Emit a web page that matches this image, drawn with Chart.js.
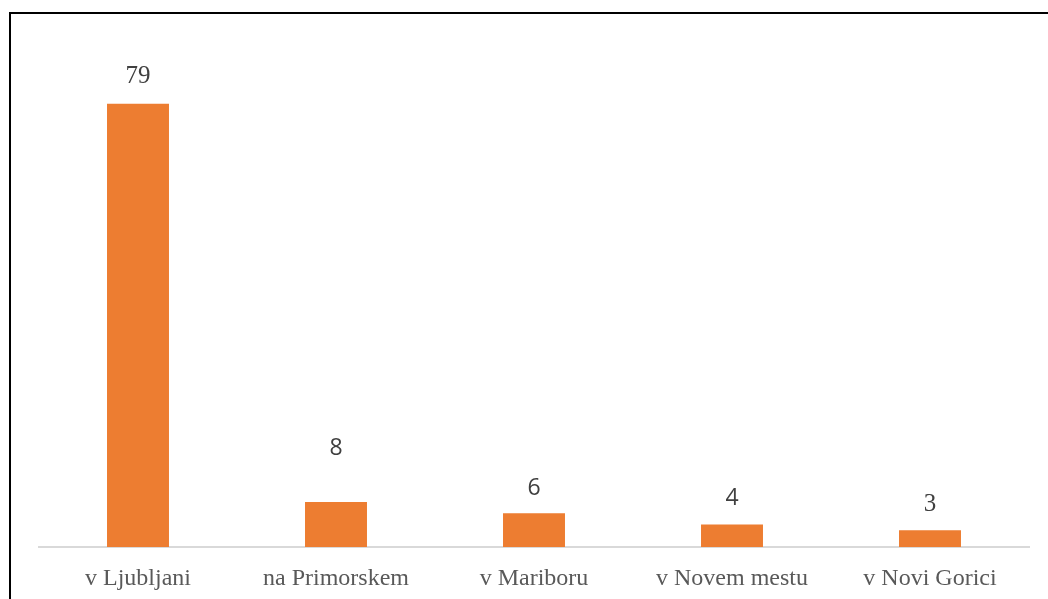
<!DOCTYPE html>
<html>
<head>
<meta charset="utf-8">
<script src="https://cdn.jsdelivr.net/npm/chart.js@4.4.1/dist/chart.umd.min.js"></script>
<style>
  html, body { margin: 0; padding: 0; background: #fff; overflow: hidden; }
  #wrap { position: relative; width: 1048px; height: 599px; }
  #frame {
    position: absolute; left: 9px; top: 12px; right: -10px; bottom: -10px;
    border-left: 2px solid #000; border-top: 2px solid #000;
    pointer-events: none;
  }
  canvas { position: absolute; left: 0; top: 0; }
</style>
</head>
<body>
<div id="wrap">
  <canvas id="chart" width="1048" height="599"></canvas>
  <div id="frame"></div>
</div>
<script>
// Number of respondents by location
const categories = ['v Ljubljani', 'na Primorskem', 'v Mariboru', 'v Novem mestu', 'v Novi Gorici'];
const counts = [79, 8, 6, 4, 3];

// Per-label styling of the value annotations
const SERIF = '"Liberation Serif"';
const SANS = '"Open Sans"';
const labelFamilies = [SERIF, SANS, SANS, SANS, SERIF];
const labelSizes = [25, 23, 23, 23, 25];
const labelGaps = [27, 54, 25, 26, 26];

const valueLabels = {
  id: 'valueLabels',
  afterDatasetsDraw(chart) {
    const ctx = chart.ctx;
    const meta = chart.getDatasetMeta(0);
    ctx.save();
    ctx.fillStyle = '#404040';
    ctx.textAlign = 'center';
    ctx.textBaseline = 'middle';
    meta.data.forEach((bar, i) => {
      ctx.font = labelSizes[i] + 'px ' + labelFamilies[i];
      ctx.fillText(String(counts[i]), bar.x, bar.y - labelGaps[i]);
    });
    ctx.restore();
  }
};

new Chart(document.getElementById('chart'), {
  type: 'bar',
  data: {
    labels: categories,
    datasets: [{
      data: counts,
      backgroundColor: '#ED7D31',
      borderWidth: 0,
      categoryPercentage: 1.0,
      barPercentage: 0.313
    }]
  },
  options: {
    responsive: false,
    animation: false,
    events: [],
    layout: { padding: { left: 39, right: 19, top: 42, bottom: 0 } },
    plugins: {
      legend: { display: false },
      tooltip: { enabled: false }
    },
    scales: {
      x: {
        afterFit(axis) { axis.height = 52; },
        grid: { display: false, drawTicks: false },
        border: { display: true, color: '#d9d9d9', width: 2 },
        ticks: {
          color: '#595959',
          padding: 17,
          font: { family: '"Liberation Serif", "Times New Roman", serif', size: 24 }
        }
      },
      y: {
        display: false,
        min: 0,
        max: 90
      }
    }
  },
  plugins: [valueLabels]
});
</script>
</body>
</html>
